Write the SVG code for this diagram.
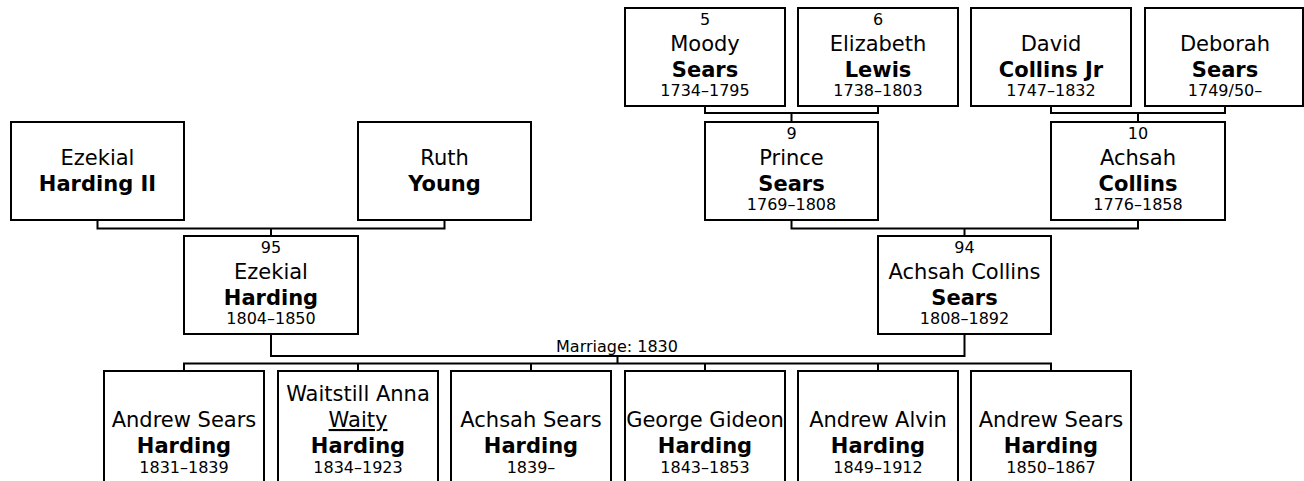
<svg xmlns="http://www.w3.org/2000/svg" width="1304" height="481" viewBox="0 0 1304 481">
<style>
rect.box{fill:#fff;stroke:#000;stroke-width:2}
.c{fill:none;stroke:#000;stroke-width:2}
text{font-family:"DejaVu Sans","Liberation Sans",sans-serif;fill:#000;text-anchor:middle}
.n{font-size:16px}
.g{font-size:21px}
.s{font-size:21px;font-weight:bold}
.d{font-size:16px}
.u{text-decoration:underline}
</style>
<rect width="1304" height="481" fill="#fff"/>
<g id="connectors">
<path class="c" d="M705,106V113H878V106M791.5,113V122"/>
<path class="c" d="M1051,106V113H1225V106M1138,113V122"/>
<path class="c" d="M97.5,220V228.5H444.5V220M271,228.5V236"/>
<path class="c" d="M791.5,220V228.5H1138V220M964.5,228.5V236"/>
<path class="c" d="M271,334V356H964.5V334M617.5,356V363.5"/>
<path class="c" d="M184,371V363.5H1051V371M358,363.5V371M531,363.5V371M705,363.5V371M878,363.5V371"/>
<text class="d" x="617" y="352">Marriage: 1830</text>
</g>
<g id="p5"><rect class="box" x="625" y="8" width="160" height="98"/><text class="n" x="705" y="25">5</text><text class="g" x="705" y="51">Moody</text><text class="s" x="705" y="77">Sears</text><text class="d" x="705" y="96">1734–1795</text></g>
<g id="p6"><rect class="box" x="798" y="8" width="160" height="98"/><text class="n" x="878" y="25">6</text><text class="g" x="878" y="51">Elizabeth</text><text class="s" x="878" y="77">Lewis</text><text class="d" x="878" y="96">1738–1803</text></g>
<g id="david"><rect class="box" x="971" y="8" width="160" height="98"/><text class="g" x="1051" y="51">David</text><text class="s" x="1051" y="77">Collins Jr</text><text class="d" x="1051" y="96">1747–1832</text></g>
<g id="deborah"><rect class="box" x="1145" y="8" width="158" height="98"/><text class="g" x="1225" y="51">Deborah</text><text class="s" x="1225" y="77">Sears</text><text class="d" x="1225" y="96">1749/50–</text></g>
<g id="ezekial2"><rect class="box" x="11" y="122" width="173" height="98"/><text class="g" x="97.5" y="165">Ezekial</text><text class="s" x="97.5" y="191">Harding II</text></g>
<g id="ruth"><rect class="box" x="358" y="122" width="173" height="98"/><text class="g" x="444.5" y="165">Ruth</text><text class="s" x="444.5" y="191">Young</text></g>
<g id="p9"><rect class="box" x="705" y="122" width="173" height="98"/><text class="n" x="791.5" y="139">9</text><text class="g" x="791.5" y="165">Prince</text><text class="s" x="791.5" y="191">Sears</text><text class="d" x="791.5" y="210">1769–1808</text></g>
<g id="p10"><rect class="box" x="1051" y="122" width="174" height="98"/><text class="n" x="1138" y="139">10</text><text class="g" x="1138" y="165">Achsah</text><text class="s" x="1138" y="191">Collins</text><text class="d" x="1138" y="210">1776–1858</text></g>
<g id="p95"><rect class="box" x="184" y="236" width="174" height="98"/><text class="n" x="271" y="253">95</text><text class="g" x="271" y="279">Ezekial</text><text class="s" x="271" y="305">Harding</text><text class="d" x="271" y="324">1804–1850</text></g>
<g id="p94"><rect class="box" x="878" y="236" width="173" height="98"/><text class="n" x="964.5" y="253">94</text><text class="g" x="964.5" y="279">Achsah Collins</text><text class="s" x="964.5" y="305">Sears</text><text class="d" x="964.5" y="324">1808–1892</text></g>
<g id="c1"><rect class="box" x="104" y="371" width="160" height="140"/><text class="g" x="184" y="427">Andrew Sears</text><text class="s" x="184" y="453">Harding</text><text class="d" x="184" y="473">1831–1839</text></g>
<g id="c2"><rect class="box" x="278" y="371" width="160" height="140"/><text class="g" x="358" y="401">Waitstill Anna</text><text class="g u" x="358" y="427">Waity</text><text class="s" x="358" y="453">Harding</text><text class="d" x="358" y="473">1834–1923</text></g>
<g id="c3"><rect class="box" x="451" y="371" width="160" height="140"/><text class="g" x="531" y="427">Achsah Sears</text><text class="s" x="531" y="453">Harding</text><text class="d" x="531" y="473">1839–</text></g>
<g id="c4"><rect class="box" x="625" y="371" width="160" height="140"/><text class="g" x="705" y="427">George Gideon</text><text class="s" x="705" y="453">Harding</text><text class="d" x="705" y="473">1843–1853</text></g>
<g id="c5"><rect class="box" x="798" y="371" width="160" height="140"/><text class="g" x="878" y="427">Andrew Alvin</text><text class="s" x="878" y="453">Harding</text><text class="d" x="878" y="473">1849–1912</text></g>
<g id="c6"><rect class="box" x="971" y="371" width="160" height="140"/><text class="g" x="1051" y="427">Andrew Sears</text><text class="s" x="1051" y="453">Harding</text><text class="d" x="1051" y="473">1850–1867</text></g>
</svg>
